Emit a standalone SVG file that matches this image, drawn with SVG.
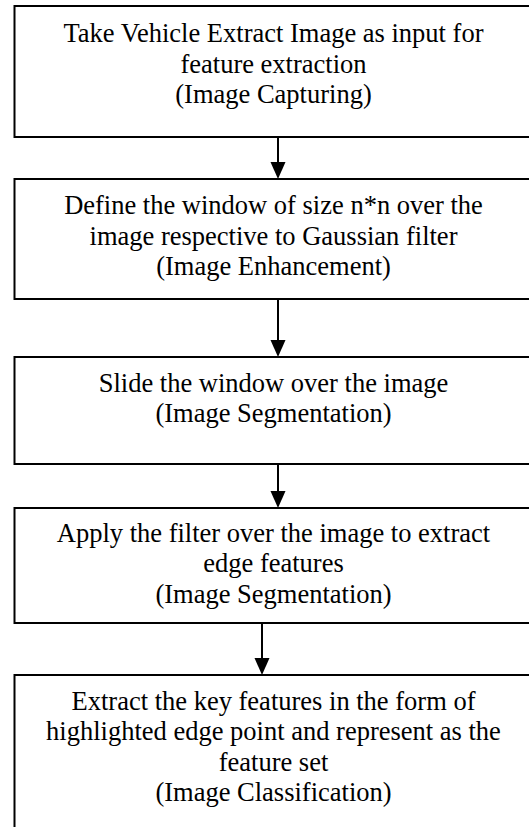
<svg xmlns="http://www.w3.org/2000/svg" width="529" height="827" viewBox="0 0 529 827">
<style>
.box{fill:#fff;stroke:#000;stroke-width:2}
.t{font-family:"Liberation Serif","Times New Roman",serif;font-size:26.5px;fill:#000;text-anchor:middle}
.c{stroke:#000;stroke-width:2;fill:none}
</style>
<defs>
<marker id="ah" markerUnits="userSpaceOnUse" markerWidth="16" markerHeight="18" refX="7.5" refY="17" orient="auto-start-reverse" viewBox="0 0 15 17">
<path d="M0,0 L15,0 L7.5,17 Z" fill="#000"/>
</marker>
</defs>
<rect width="529" height="827" fill="#fff"/>
<g id="n1">
<rect class="box" x="14.5" y="6" width="519" height="131"/>
<text class="t" x="273.5" y="42">Take Vehicle Extract Image as input for</text>
<text class="t" x="273.5" y="72.5">feature extraction</text>
<text class="t" x="273.5" y="103">(Image Capturing)</text>
</g>
<g id="n2">
<rect class="box" x="14.5" y="179" width="519" height="120"/>
<text class="t" x="273.5" y="214">Define the window of size n*n over the</text>
<text class="t" x="273.5" y="244.5">image respective to Gaussian filter</text>
<text class="t" x="273.5" y="275">(Image Enhancement)</text>
</g>
<g id="n3">
<rect class="box" x="14.5" y="357" width="519" height="107"/>
<text class="t" x="273.5" y="392">Slide the window over the image</text>
<text class="t" x="273.5" y="422">(Image Segmentation)</text>
</g>
<g id="n4">
<rect class="box" x="14.5" y="508" width="519" height="115"/>
<text class="t" x="273.5" y="542">Apply the filter over the image to extract</text>
<text class="t" x="273.5" y="572">edge features</text>
<text class="t" x="273.5" y="603">(Image Segmentation)</text>
</g>
<g id="n5">
<rect class="box" x="14.5" y="675" width="519" height="170"/>
<text class="t" x="273.5" y="710">Extract the key features in the form of</text>
<text class="t" x="273.5" y="740">highlighted edge point and represent as the</text>
<text class="t" x="273.5" y="770.5">feature set</text>
<text class="t" x="273.5" y="801">(Image Classification)</text>
</g>
<g id="connectors">
<path class="c" d="M278,137 V162"/>
<path d="M270.5,162 L285.5,162 L278,179 Z"/>
<path class="c" d="M278,299 V340"/>
<path d="M270.5,340 L285.5,340 L278,357 Z"/>
<path class="c" d="M278,464 V491"/>
<path d="M270.5,491 L285.5,491 L278,508 Z"/>
<path class="c" d="M262,623 V658"/>
<path d="M254.5,658 L269.5,658 L262,675 Z"/>
</g>
</svg>
